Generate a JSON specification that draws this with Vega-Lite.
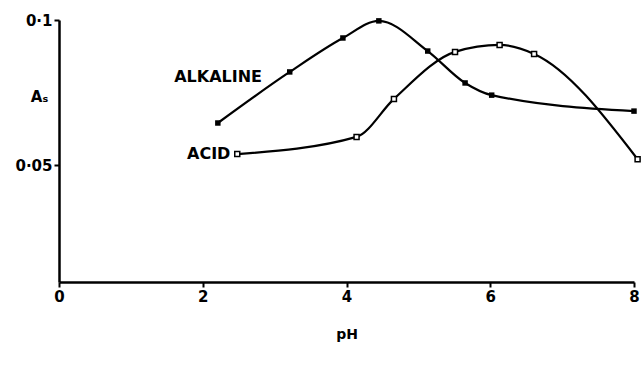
{
  "$schema": "https://vega.github.io/schema/vega-lite/v6.json",
  "width": 575,
  "height": 262,
  "autosize": "none",
  "padding": {"left": 59, "top": 20, "right": 7, "bottom": 88},
  "background": "white",
  "config": {
    "view": {"stroke": null},
    "font": "DejaVu Sans",
    "axis": {
      "grid": false,
      "domainColor": "black",
      "domainWidth": 2.5,
      "tickColor": "black",
      "tickWidth": 2,
      "labelColor": "black",
      "labelFont": "DejaVu Sans",
      "labelFontWeight": "bold",
      "labelFontSize": 15,
      "titleFont": "DejaVu Sans",
      "titleFontWeight": "bold",
      "titleColor": "black"
    }
  },
  "datasets": {
    "curves": [
      {"series": "ALKALINE", "pH": 2.21, "A": 0.0645},
      {"series": "ALKALINE", "pH": 3.21, "A": 0.0821},
      {"series": "ALKALINE", "pH": 3.95, "A": 0.0938},
      {"series": "ALKALINE", "pH": 4.45, "A": 0.0997},
      {"series": "ALKALINE", "pH": 5.13, "A": 0.0893},
      {"series": "ALKALINE", "pH": 5.65, "A": 0.0783},
      {"series": "ALKALINE", "pH": 6.02, "A": 0.0741},
      {"series": "ALKALINE", "pH": 8.0, "A": 0.0686},
      {"series": "ACID", "pH": 2.48, "A": 0.0538},
      {"series": "ACID", "pH": 4.14, "A": 0.0597},
      {"series": "ACID", "pH": 4.66, "A": 0.0728},
      {"series": "ACID", "pH": 5.51, "A": 0.089},
      {"series": "ACID", "pH": 6.13, "A": 0.0914},
      {"series": "ACID", "pH": 6.61, "A": 0.0883},
      {"series": "ACID", "pH": 8.05, "A": 0.052}
    ],
    "labels": [
      {"label": "ALKALINE", "pH": 2.88, "A": 0.0803},
      {"label": "ACID", "pH": 2.44, "A": 0.0538}
    ]
  },
  "layer": [
    {
      "data": {"name": "curves"},
      "mark": {"type": "line", "interpolate": "monotone", "color": "black", "strokeWidth": 2.2, "clip": false},
      "encoding": {
        "x": {
          "field": "pH", "type": "quantitative",
          "scale": {"domain": [0, 8], "nice": false, "zero": false},
          "axis": {"values": [0, 2, 4, 6, 8], "format": "d", "title": "pH", "titleFontSize": 14, "titlePadding": 23, "tickSize": 5, "labelPadding": 2, "labelFlush": false}
        },
        "y": {
          "field": "A", "type": "quantitative",
          "scale": {"domain": [0.0097, 0.1], "nice": false, "zero": false},
          "axis": {"values": [0.05, 0.1], "labelExpr": "datum.value == 0.1 ? '0·1' : '0·05'", "labelFontSize": 15, "title": "Aₛ", "titleAngle": 0, "titleFontSize": 15, "titleX": -20, "titleY": 84, "tickSize": 5, "labelPadding": 2}
        },
        "detail": {"field": "series"}
      }
    },
    {
      "data": {"name": "curves"},
      "transform": [{"filter": "datum.series == 'ALKALINE'"}],
      "mark": {"type": "square", "filled": true, "color": "black", "size": 30, "opacity": 1, "clip": false},
      "encoding": {
        "x": {"field": "pH", "type": "quantitative"},
        "y": {"field": "A", "type": "quantitative"}
      }
    },
    {
      "data": {"name": "curves"},
      "transform": [{"filter": "datum.series == 'ACID'"}],
      "mark": {"type": "square", "filled": true, "fill": "white", "stroke": "black", "strokeWidth": 1.5, "size": 25, "opacity": 1, "clip": false},
      "encoding": {
        "x": {"field": "pH", "type": "quantitative"},
        "y": {"field": "A", "type": "quantitative"}
      }
    },
    {
      "data": {"name": "labels"},
      "mark": {"type": "text", "align": "right", "baseline": "middle", "font": "DejaVu Sans", "fontWeight": "bold", "fontSize": 16, "color": "black", "dx": -4},
      "encoding": {
        "x": {"field": "pH", "type": "quantitative"},
        "y": {"field": "A", "type": "quantitative"},
        "text": {"field": "label"}
      }
    }
  ]
}
